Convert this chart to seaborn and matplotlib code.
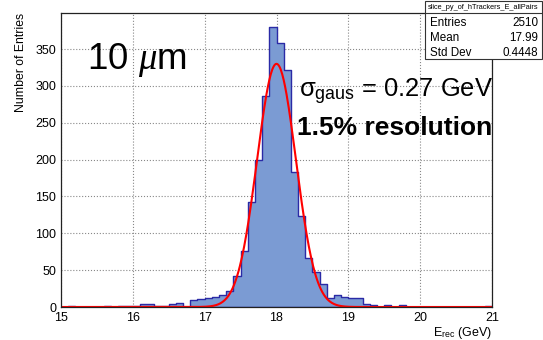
import numpy as np
import pandas as pd
import matplotlib
matplotlib.use("Agg")
import matplotlib.pyplot as plt
import seaborn as sns
from matplotlib.patches import Rectangle
from matplotlib.lines import Line2D
from matplotlib.ticker import MultipleLocator

# histogram: 60 bins of 0.1 GeV between 15 and 21 GeV
bin_lo = 15.0
bin_hi = 21.0
bin_w = 0.1
counts = [
    0, 1, 0, 0, 0, 0, 1, 0, 1, 1,          # 15.0 - 15.9
    1, 4, 4, 2, 1, 4, 5, 0, 10, 11,        # 16.0 - 16.9
    12, 13, 16, 22, 42, 76, 143, 200, 287, 380,   # 17.0 - 17.9
    358, 321, 183, 123, 66, 48, 31, 12, 16, 13,   # 18.0 - 18.9
    12, 12, 4, 3, 0, 3, 0, 3, 0, 0,        # 19.0 - 19.9
    0, 0, 0, 0, 0, 0, 0, 0, 0, 1,          # 20.0 - 20.9
]

# gaussian fit result
fit_mean = 18.0
fit_sigma = 0.27
fit_amp = 330.0

hist_name = "slice_py_of_hTrackers_E_allPairs"
stats_labels = ["Entries", "Mean", "Std Dev"]
stats_values = ["2510", "17.99", "0.4448"]

sns.set_style("white")
plt.rcParams['font.family'] = ['Liberation Sans', 'DejaVu Sans']
plt.rcParams['mathtext.fontset'] = 'custom'
plt.rcParams['mathtext.rm'] = 'Liberation Sans'
plt.rcParams['mathtext.it'] = 'Liberation Serif:italic'
for k in ['text.color', 'axes.labelcolor', 'xtick.color', 'ytick.color']:
    plt.rcParams[k] = 'black'

W, H = 543, 340
fig = plt.figure(figsize=(W / 100, H / 100), dpi=100)
ax = fig.add_axes([61 / W, 1 - 307 / H, 431 / W, 294 / H])

centers = bin_lo + bin_w * (np.arange(len(counts)) + 0.5)
df = pd.DataFrame({"E": centers, "n": counts})
sns.histplot(data=df, x="E", weights="n", binwidth=bin_w, binrange=(bin_lo, bin_hi),
             element="step", fill=True, color="#7b9bd3", edgecolor="#2a2aa6",
             linewidth=1.0, alpha=1, ax=ax)

xf = np.linspace(bin_lo, bin_hi, 601)
yf = fit_amp * np.exp(-0.5 * ((xf - fit_mean) / fit_sigma) ** 2)
sns.lineplot(x=xf, y=yf, color="#ff0000", linewidth=1.5, ax=ax)

ax.set_xlim(bin_lo, bin_hi)
ax.set_ylim(0, 399)
ax.xaxis.set_major_locator(MultipleLocator(1))
ax.xaxis.set_minor_locator(MultipleLocator(0.2))
ax.yaxis.set_major_locator(MultipleLocator(50))
ax.yaxis.set_minor_locator(MultipleLocator(10))
ax.tick_params(which='both', direction='in', top=False, right=False,
               labelsize=9, color='#333333')
ax.tick_params(which='major', length=7, width=0.8)
ax.tick_params(which='minor', length=3.5, width=0.8)
ax.set_axisbelow(True)
ax.grid(True, which='major', linestyle=':', color='#888888', linewidth=0.8)
for s in ax.spines.values():
    s.set_color('#222222')
    s.set_linewidth(0.9)

ax.set_ylabel("Number of Entries", fontsize=8.8, loc='top')
ax.yaxis.set_label_coords(-0.078, 1.0)
ax.set_xlabel(r"E$_{\rm rec}$ (GeV)", fontsize=9, loc='right')
ax.xaxis.set_label_coords(1.0, -0.062)

ax.text(87 / W, 1 - 69 / H, r"10 $\mu$m", transform=fig.transFigure,
        fontsize=26.5, ha='left', va='baseline')
ax.text(299 / W, 1 - 97 / H, r"$\mathrm{\sigma}_{\mathrm{gaus}}$ = 0.27 GeV",
        transform=fig.transFigure, fontsize=18.4, ha='left', va='baseline')
ax.text(297 / W, 1 - 135 / H, "1.5% resolution", transform=fig.transFigure,
        fontsize=19, fontweight='bold', ha='left', va='baseline')

# stats box
bx0, by0, bx1, by1 = 425, 1, 542, 59
fig.add_artist(Rectangle((bx0 / W, 1 - by1 / H), (bx1 - bx0) / W, (by1 - by0) / H,
                         transform=fig.transFigure, facecolor='white',
                         edgecolor='#333333', linewidth=0.8))
fig.add_artist(Line2D([bx0 / W, bx1 / W], [1 - 13 / H, 1 - 13 / H],
                      transform=fig.transFigure, color='#333333', linewidth=0.8))
fig.text((bx0 + bx1) / 2 / W, 1 - 7.5 / H, hist_name, fontsize=5.3,
         ha='center', va='center')
for i, (lab, val) in enumerate(zip(stats_labels, stats_values)):
    yy = 1 - (23 + 15 * i) / H
    fig.text((bx0 + 5) / W, yy, lab, fontsize=8.4, ha='left', va='center')
    fig.text((bx1 - 4) / W, yy, val, fontsize=8.4, ha='right', va='center')

fig.savefig("out.png", dpi=100)
